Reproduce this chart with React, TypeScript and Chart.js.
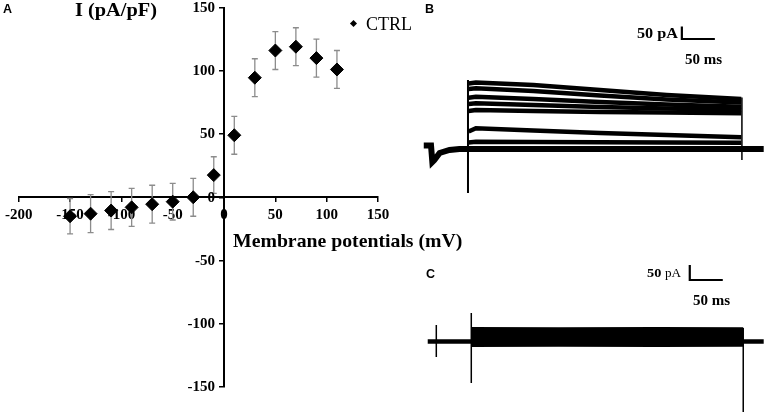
import React, { useEffect, useRef } from 'react';
import { Chart, registerables } from 'chart.js';

Chart.register(...registerables);

const SERIF = '"Liberation Serif", "Times New Roman", serif';
const SANS = '"Liberation Sans", Arial, sans-serif';

// ---------- Panel A: I-V relation (CTRL) ----------
const voltages = [-150, -130, -110, -90, -70, -50, -30, -10, 10, 30, 50, 70, 90, 110];
const ctrlCurrent = [-15, -13, -10.5, -8, -5.5, -3.5, 0, 17.5, 49, 94.5, 116, 119, 110, 101];
const ctrlSem = [14, 15, 15, 15, 15, 14.5, 15, 14.5, 15, 15, 15, 15, 15, 15];
const xTickValues = [-200, -150, -100, -50, 0, 50, 100, 150];
const yTickValues = [-150, -100, -50, 0, 50, 100, 150];

// ---------- Panel B: current traces (ms, pA) ----------
const bStepTime = [64, 75, 162, 263, 364, 477];
const bTrace1 = [262, 266, 256, 236, 216, 200];
const bTrace2 = [240, 243, 232, 214, 198, 186];
const bTrace3 = [205, 209, 200, 188, 178, 169];
const bTrace4 = [180, 183, 176, 168, 162, 156];
const bTrace5 = [152, 156, 152, 148, 146, 143];
const bTrace6 = [70, 83, 74, 64, 56, 47];
const bTrace7 = [26, 29, 28, 27, 26, 25];
const bBaseTime = [-4, 7, 9, 12, 20, 35, 50, 511];
const bBaseCurrent = [14, 14, -52, -44, -16, -4, 0, 0];
const bOnsetSpike = { t: 63, top: 276, bottom: -176 };
const bOffsetSpike = { t: 478, top: 206, bottom: -44 };
const bScaleBarTime = [387, 387, 437];
const bScaleBarCurrent = [490, 440, 440];

// ---------- Panel C: current trace (ms, pA) ----------
const cBaseTime = [2, 511];
const cBaseCurrent = [0, 0];
const cBandTime = [69, 200, 350, 480];
const cBandUpper = [45, 44, 45, 44];
const cBandLower = [-15, -14, -15, -14];
const cSmallSpike = { t: 15, top: 55, bottom: -52 };
const cOnsetSpike = { t: 68, top: 95, bottom: -138 };
const cOffsetSpike = { t: 480, top: 45, bottom: -235 };
const cScaleBarTime = [399, 399, 449];
const cScaleBarCurrent = [255, 205, 205];

const toXY = (xs: number[], ys: number[]) => xs.map((x, i) => ({ x, y: ys[i] }));
const spike = (s: { t: number; top: number; bottom: number }) => [
  { x: s.t, y: s.top },
  { x: s.t, y: s.bottom },
];

const line = (data: any, width: number, extra: any = {}) => ({
  data,
  borderColor: '#000',
  backgroundColor: '#000',
  borderWidth: width,
  pointRadius: 0,
  tension: 0,
  fill: false,
  ...extra,
});

const errorBarsPlugin = {
  id: 'errorBars',
  beforeDatasetsDraw(chart: any) {
    const { ctx } = chart;
    const x = chart.scales.x;
    const y = chart.scales.y;
    ctx.save();
    ctx.strokeStyle = '#8c8c8c';
    ctx.lineWidth = 1.3;
    voltages.forEach((v, i) => {
      const px = x.getPixelForValue(v);
      const top = y.getPixelForValue(ctrlCurrent[i] + ctrlSem[i]);
      const bot = y.getPixelForValue(ctrlCurrent[i] - ctrlSem[i]);
      ctx.beginPath();
      ctx.moveTo(px, top);
      ctx.lineTo(px, bot);
      ctx.moveTo(px - 3, top);
      ctx.lineTo(px + 3, top);
      ctx.moveTo(px - 3, bot);
      ctx.lineTo(px + 3, bot);
      ctx.stroke();
    });
    ctx.restore();
  },
};

const yLabelsPlugin = {
  id: 'yLabels',
  beforeDatasetsDraw(chart: any) {
    const { ctx } = chart;
    const x0 = chart.scales.x.getPixelForValue(0);
    const y = chart.scales.y;
    ctx.save();
    ctx.fillStyle = '#000';
    ctx.font = `bold 15px ${SERIF}`;
    ctx.textAlign = 'right';
    ctx.textBaseline = 'middle';
    yTickValues.forEach((v) => {
      ctx.fillText(String(v), x0 - 9, y.getPixelForValue(v) + 0.5);
    });
    ctx.restore();
  },
};

const traceOptions = (xmin: number, xmax: number, ymin: number, ymax: number) => ({
  responsive: false,
  animation: false as const,
  devicePixelRatio: 1,
  events: [],
  layout: { padding: 0 },
  plugins: { legend: { display: false }, tooltip: { enabled: false } },
  scales: {
    x: { type: 'linear' as const, display: false, min: xmin, max: xmax },
    y: { type: 'linear' as const, display: false, min: ymin, max: ymax },
  },
});

function Txt(props: {
  left: number;
  cy: number;
  size: number;
  weight?: string;
  family?: string;
  sx?: number;
  children: React.ReactNode;
}) {
  const { left, cy, size, weight = 'bold', family = SERIF, sx = 1, children } = props;
  return (
    <div
      style={{
        position: 'absolute',
        left,
        top: cy,
        fontFamily: family,
        fontSize: size,
        fontWeight: weight as any,
        lineHeight: 1,
        whiteSpace: 'nowrap',
        color: '#000',
        transform: `translateY(-50%) scaleX(${sx})`,
        transformOrigin: 'left center',
      }}
    >
      {children}
    </div>
  );
}

export default function App() {
  const aRef = useRef<HTMLCanvasElement>(null);
  const bRef = useRef<HTMLCanvasElement>(null);
  const cRef = useRef<HTMLCanvasElement>(null);

  useEffect(() => {
    const charts: Chart[] = [];
    const axisCommon = {
      grid: { drawOnChartArea: false, drawTicks: true, tickLength: 4, color: '#000', lineWidth: 1.5 },
      border: { display: true, color: '#000', width: 2 },
    };

    charts.push(
      new Chart(aRef.current!, {
        type: 'scatter',
        data: {
          datasets: [
            {
              label: 'CTRL',
              data: toXY(voltages, ctrlCurrent),
              pointStyle: 'rectRot',
              pointRadius: 6.5,
              backgroundColor: '#000',
              borderColor: '#000',
              borderWidth: 1,
            },
          ],
        },
        options: {
          responsive: false,
          animation: false,
          devicePixelRatio: 1,
          events: [],
          layout: { padding: { left: 15, right: 42, top: 6, bottom: 28 } },
          plugins: { legend: { display: false }, tooltip: { enabled: false } },
          scales: {
            x: {
              type: 'linear',
              position: { y: 0 } as any,
              min: -200,
              max: 150,
              afterBuildTicks: (s: any) => {
                s.ticks = xTickValues.map((v) => ({ value: v }));
              },
              ...axisCommon,
              ticks: {
                color: '#000',
                font: { family: SERIF, size: 15, weight: 'bold' },
                padding: 5,
                maxRotation: 0,
                autoSkip: false,
              },
            },
            y: {
              type: 'linear',
              position: { x: 0 } as any,
              min: -150,
              max: 150,
              afterBuildTicks: (s: any) => {
                s.ticks = yTickValues.map((v) => ({ value: v }));
              },
              ...axisCommon,
              ticks: { display: false },
            },
          },
        } as any,
        plugins: [errorBarsPlugin, yLabelsPlugin],
      })
    );

    const bTraces = [bTrace1, bTrace2, bTrace3, bTrace4, bTrace5, bTrace6, bTrace7];
    charts.push(
      new Chart(bRef.current!, {
        type: 'line',
        data: {
          datasets: [
            line(toXY(bBaseTime, bBaseCurrent), 6),
            ...bTraces.map((tr) => line(toXY(bStepTime, tr), 4.5)),
            line(spike(bOnsetSpike), 2),
            line(spike(bOffsetSpike), 1.5),
            line(toXY(bScaleBarTime, bScaleBarCurrent), 2.2),
          ],
        },
        options: traceOptions(-40, 516, -224, 596) as any,
      })
    );

    charts.push(
      new Chart(cRef.current!, {
        type: 'line',
        data: {
          datasets: [
            line(toXY(cBaseTime, cBaseCurrent), 4.5),
            line(toXY(cBandTime, cBandUpper), 2),
            line(toXY(cBandTime, cBandLower), 2, { fill: '-1' }),
            line(spike(cSmallSpike), 1.5),
            line(spike(cOnsetSpike), 1.5),
            line(spike(cOffsetSpike), 1.5),
            line(toXY(cScaleBarTime, cScaleBarCurrent), 2.2),
          ],
        },
        options: traceOptions(-40, 516, -245, 455) as any,
      })
    );

    return () => charts.forEach((c) => c.destroy());
  }, []);

  return (
    <div
      style={{
        position: 'absolute',
        left: 0,
        top: 0,
        width: 767,
        height: 415,
        background: '#fff',
        overflow: 'hidden',
      }}
    >
      <canvas ref={aRef} width={420} height={415} style={{ position: 'absolute', left: 0, top: 0 }} />
      <canvas ref={bRef} width={367} height={205} style={{ position: 'absolute', left: 400, top: 0 }} />
      <canvas ref={cRef} width={367} height={210} style={{ position: 'absolute', left: 400, top: 205 }} />

      <Txt left={3} cy={9} size={12.5} family={SANS}>A</Txt>
      <Txt left={75} cy={9.5} size={18} sx={1.13}>I (pA/pF)</Txt>
      <div
        style={{
          position: 'absolute',
          left: 350.5,
          top: 21,
          width: 5,
          height: 5,
          background: '#000',
          transform: 'rotate(45deg)',
        }}
      />
      <Txt left={366} cy={23.5} size={18} weight="normal">CTRL</Txt>
      <Txt left={233} cy={240} size={19} sx={1.04}>Membrane potentials (mV)</Txt>

      <Txt left={425} cy={9} size={12.5} family={SANS}>B</Txt>
      <Txt left={637} cy={33} size={15} sx={1.08}>50 pA</Txt>
      <Txt left={685} cy={59} size={15}>50 ms</Txt>

      <Txt left={426} cy={274} size={12.5} family={SANS}>C</Txt>
      <Txt left={647} cy={272} size={13} sx={1.1}>
        50 <span style={{ fontWeight: 'normal', fontSize: 12 }}>pA</span>
      </Txt>
      <Txt left={693} cy={299.5} size={15}>50 ms</Txt>
    </div>
  );
}
